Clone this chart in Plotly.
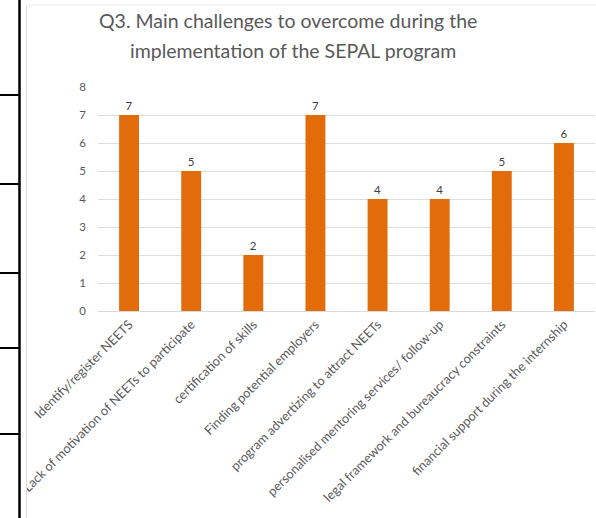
import plotly.graph_objects as go

categories = [
    "Identify/register NEETS",
    "Lack of motivation of NEETs to participate",
    "certification of skills",
    "Finding potential employers",
    "program advertizing to attract NEETs",
    "personalised mentoring services/ follow-up",
    "legal framework and bureaucracy constraints",
    "financial support during the internship",
]
values = [7, 5, 2, 7, 4, 4, 5, 6]
y_ticks = [0, 1, 2, 3, 4, 5, 6, 7, 8]
title_lines = [
    "Q3. Main challenges to overcome during the",
    "implementation of the SEPAL program",
]

W, H = 596, 518
ML, MR, MT, MB = 98, 1, 87, 207
PW, PH = W - ML - MR, H - MT - MB


def px_x(p):
    return (p - ML) / PW


def px_y(p):
    return (H - MB - p) / PH


fig = go.Figure(
    go.Bar(
        x=categories,
        y=values,
        marker=dict(color="#E36C0A", line=dict(width=0)),
        text=values,
        textposition="outside",
        textfont=dict(family="Lato, Open Sans, sans-serif", size=11.5, color="#404040"),
        cliponaxis=False,
    )
)

shapes = []
shapes.append(dict(type="rect", xref="paper", yref="paper", layer="above",
                   x0=px_x(-5), x1=px_x(26), y0=px_y(H + 5), y1=px_y(-5),
                   fillcolor="white", line=dict(width=0)))
shapes.append(dict(type="line", xref="paper", yref="paper", layer="above",
                   x0=px_x(26.5), x1=px_x(26.5), y0=px_y(H + 5), y1=px_y(5),
                   line=dict(color="#dedede", width=1)))
shapes.append(dict(type="line", xref="paper", yref="paper", layer="above",
                   x0=px_x(26.5), x1=px_x(W + 5), y0=px_y(5), y1=px_y(5),
                   line=dict(color="#ececec", width=1)))
shapes.append(dict(type="line", xref="paper", yref="paper", layer="above",
                   x0=px_x(19.5), x1=px_x(19.5), y0=px_y(H + 5), y1=px_y(-5),
                   line=dict(color="black", width=2.5)))
for yy in [95, 184, 273, 348, 434]:
    shapes.append(dict(type="line", xref="paper", yref="paper", layer="above",
                       x0=px_x(-5), x1=px_x(19.5), y0=px_y(yy), y1=px_y(yy),
                       line=dict(color="black", width=2)))

annotations = []
for line, cx, cy in zip(title_lines, [288, 293], [20, 51]):
    annotations.append(dict(
        text=line, xref="paper", yref="paper",
        x=px_x(cx), y=px_y(cy), xanchor="center", yanchor="middle",
        showarrow=False,
        font=dict(family="Lato, Open Sans, sans-serif", size=19.5, color="#595959"),
    ))

fig.update_layout(
    width=W, height=H,
    margin=dict(l=ML, r=MR, t=MT, b=MB, pad=0),
    paper_bgcolor="white", plot_bgcolor="white",
    bargap=0.68,
    showlegend=False,
    font=dict(family="Lato, Open Sans, sans-serif", color="#595959"),
    xaxis=dict(
        tickangle=-45,
        tickfont=dict(size=12.8, color="#595959"),
        showgrid=False,
        showline=True, linecolor="#d9d9d9", linewidth=1,
        ticks="",
        range=[-0.5, len(categories) - 0.5],
    ),
    yaxis=dict(
        range=[0, 8],
        tickvals=y_ticks,
        tickfont=dict(size=11.5, color="#595959"),
        showgrid=True, gridcolor="#dddddd", gridwidth=1,
        zeroline=False,
        showline=False,
        ticks="",
        ticklabelstandoff=11,
    ),
    shapes=shapes,
    annotations=annotations,
)

fig.write_html("out.html")
